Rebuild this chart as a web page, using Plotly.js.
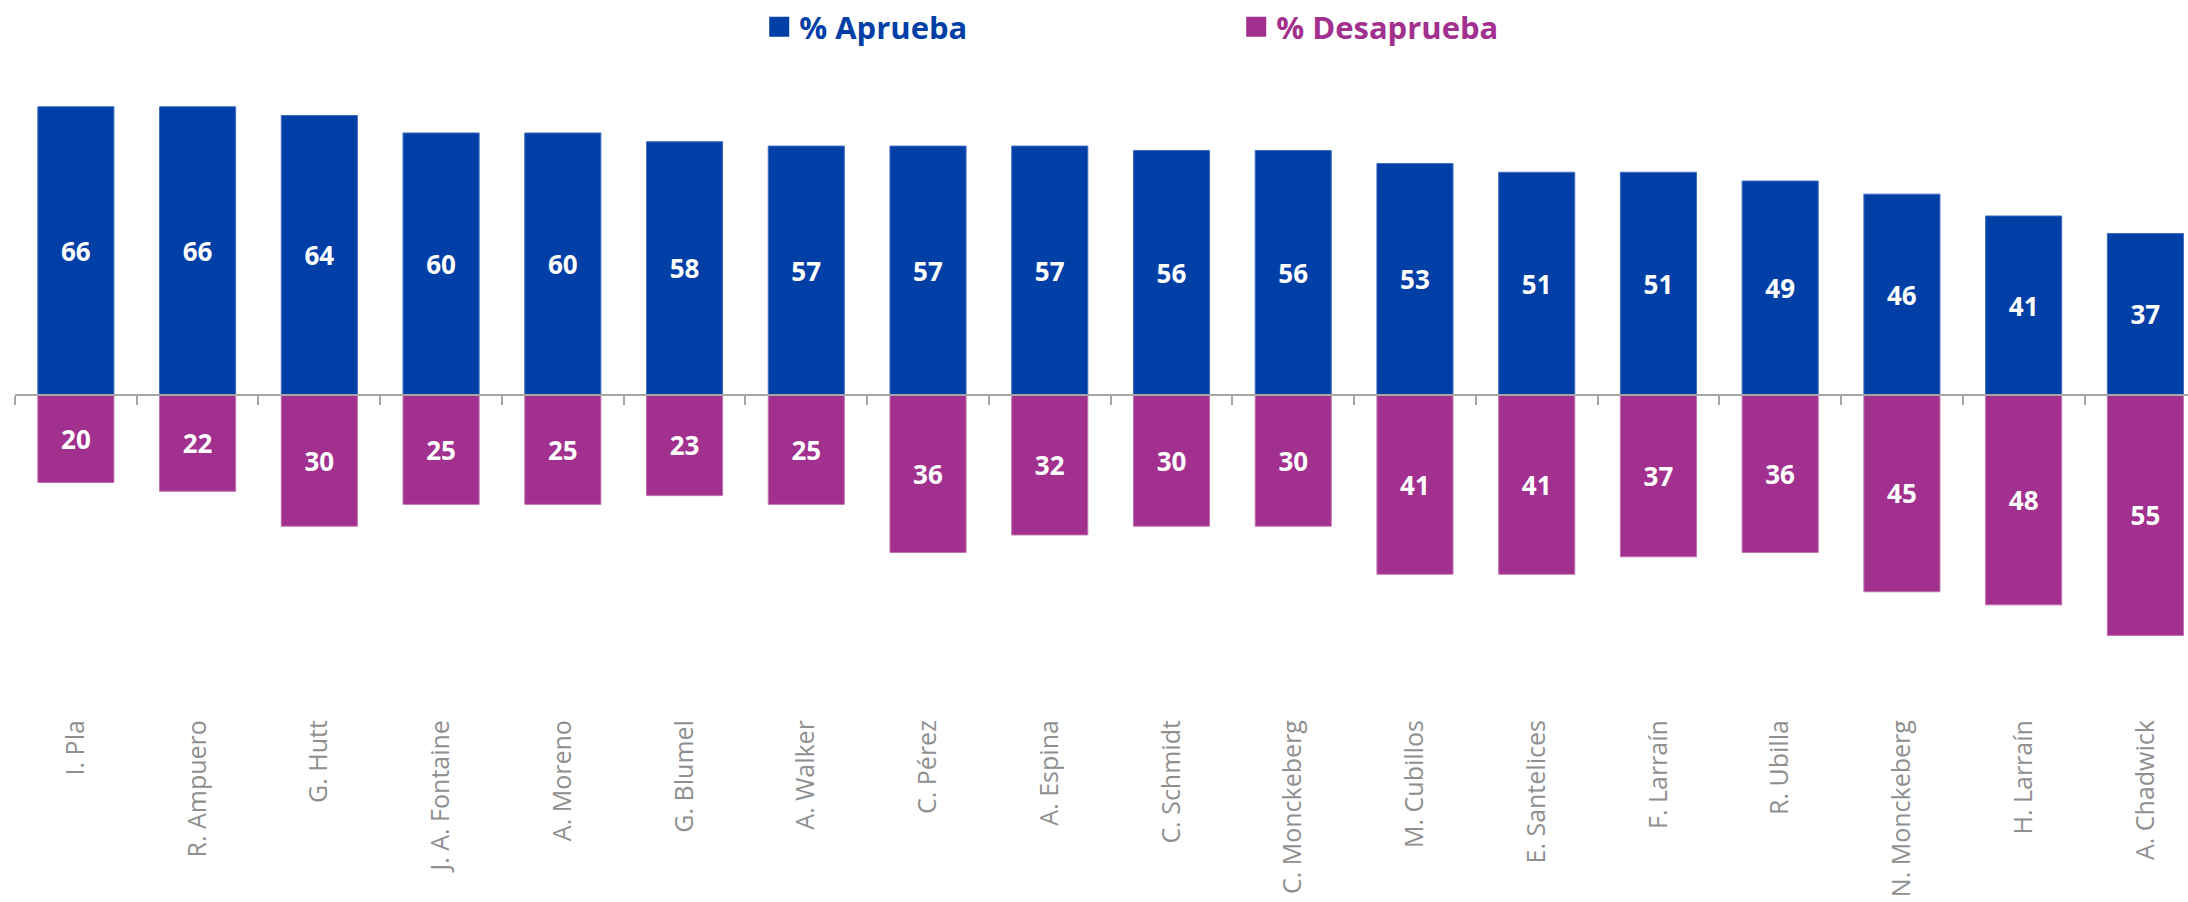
<!DOCTYPE html>
<html>
<head>
<meta charset="utf-8">
<script src="https://cdn.plot.ly/plotly-3.0.1.min.js"></script>
<style>html,body{margin:0;padding:0;background:#fff;}#chart{width:2188px;height:902px;}</style>
</head>
<body>
<div id="chart"></div>
<script>
const categories = ["I. Pla","R. Ampuero","G. Hutt","J. A. Fontaine","A. Moreno","G. Blumel","A. Walker","C. Pérez","A. Espina","C. Schmidt","C. Monckeberg","M. Cubillos","E. Santelices","F. Larraín","R. Ubilla","N. Monckeberg","H. Larraín","A. Chadwick"];
const aprueba = [66,66,64,60,60,58,57,57,57,56,56,53,51,51,49,46,41,37];
const desaprueba = [20,22,30,25,25,23,25,36,32,30,30,41,41,37,36,45,48,55];
const seriesNames = ["% Aprueba","% Desaprueba"];

const BLUE = "#003fa6", PURPLE = "#a1308e";
const yMin = -65.2, yMax = 76.7;

const labelFont = {family: "Open Sans, sans-serif", size: 26, color: "#ffffff", weight: 700};

const traces = [
  {
    type: "bar", x: categories, y: aprueba, text: aprueba.map(String),
    textposition: "inside", insidetextanchor: "middle", textangle: 0,
    constraintext: "none", textfont: labelFont,
    marker: {color: BLUE, line: {color: "#3f6cc0", width: 1}},
    width: 0.625, showlegend: false, hoverinfo: "skip", cliponaxis: false
  },
  {
    type: "bar", x: categories, y: desaprueba.map(v => -v), text: desaprueba.map(String),
    textposition: "inside", insidetextanchor: "middle", textangle: 0,
    constraintext: "none", textfont: labelFont,
    marker: {color: PURPLE, line: {color: "#c070b0", width: 1}},
    width: 0.625, showlegend: false, hoverinfo: "skip", cliponaxis: false
  },
  {
    type: "scatter", mode: "markers", x: [null], y: [null],
    name: '<b><span style="color:' + BLUE + '">' + seriesNames[0] + '</span></b>',
    marker: {symbol: "square", size: 16, color: BLUE, line: {color: BLUE, width: 4}}, hoverinfo: "skip"
  },
  {
    type: "scatter", mode: "markers", x: [null], y: [null],
    name: '<b><span style="color:' + PURPLE + '">' + seriesNames[1] + '</span></b>',
    marker: {symbol: "square", size: 16, color: PURPLE, line: {color: PURPLE, width: 4}}, hoverinfo: "skip"
  }
];

const layout = {
  width: 2188, height: 902,
  paper_bgcolor: "#ffffff", plot_bgcolor: "#ffffff",
  margin: {l: 15, r: 0, t: 60, b: 222, pad: 0},
  barmode: "relative",
  showlegend: true,
  legend: {
    orientation: "h", xref: "container", yref: "container",
    x: 0.347, xanchor: "left", y: 1 - 27/902, yanchor: "middle",
    entrywidth: 432, entrywidthmode: "pixels",
    font: {family: "Open Sans, sans-serif", size: 31},
    bgcolor: "rgba(0,0,0,0)"
  },
  xaxis: {
    type: "category", range: [-0.5, 17.35], fixedrange: true,
    anchor: "free", position: (0 - yMin) / (yMax - yMin),
    showline: true, linecolor: "#a6a6a6", linewidth: 2,
    ticks: "outside", tickson: "boundaries", ticklen: 9, tickcolor: "#a6a6a6", tickwidth: 2,
    tickangle: -90, ticklabelstandoff: 314,
    tickfont: {family: "Open Sans, sans-serif", size: 25, color: "#8f8f8f"},
    showgrid: false, zeroline: false, automargin: false
  },
  yaxis: {
    range: [yMin, yMax], fixedrange: true,
    showgrid: false, zeroline: false, showticklabels: false, showline: false, ticks: ""
  }
};

Plotly.newPlot("chart", traces, layout, {staticPlot: true, displayModeBar: false});
</script>
</body>
</html>
